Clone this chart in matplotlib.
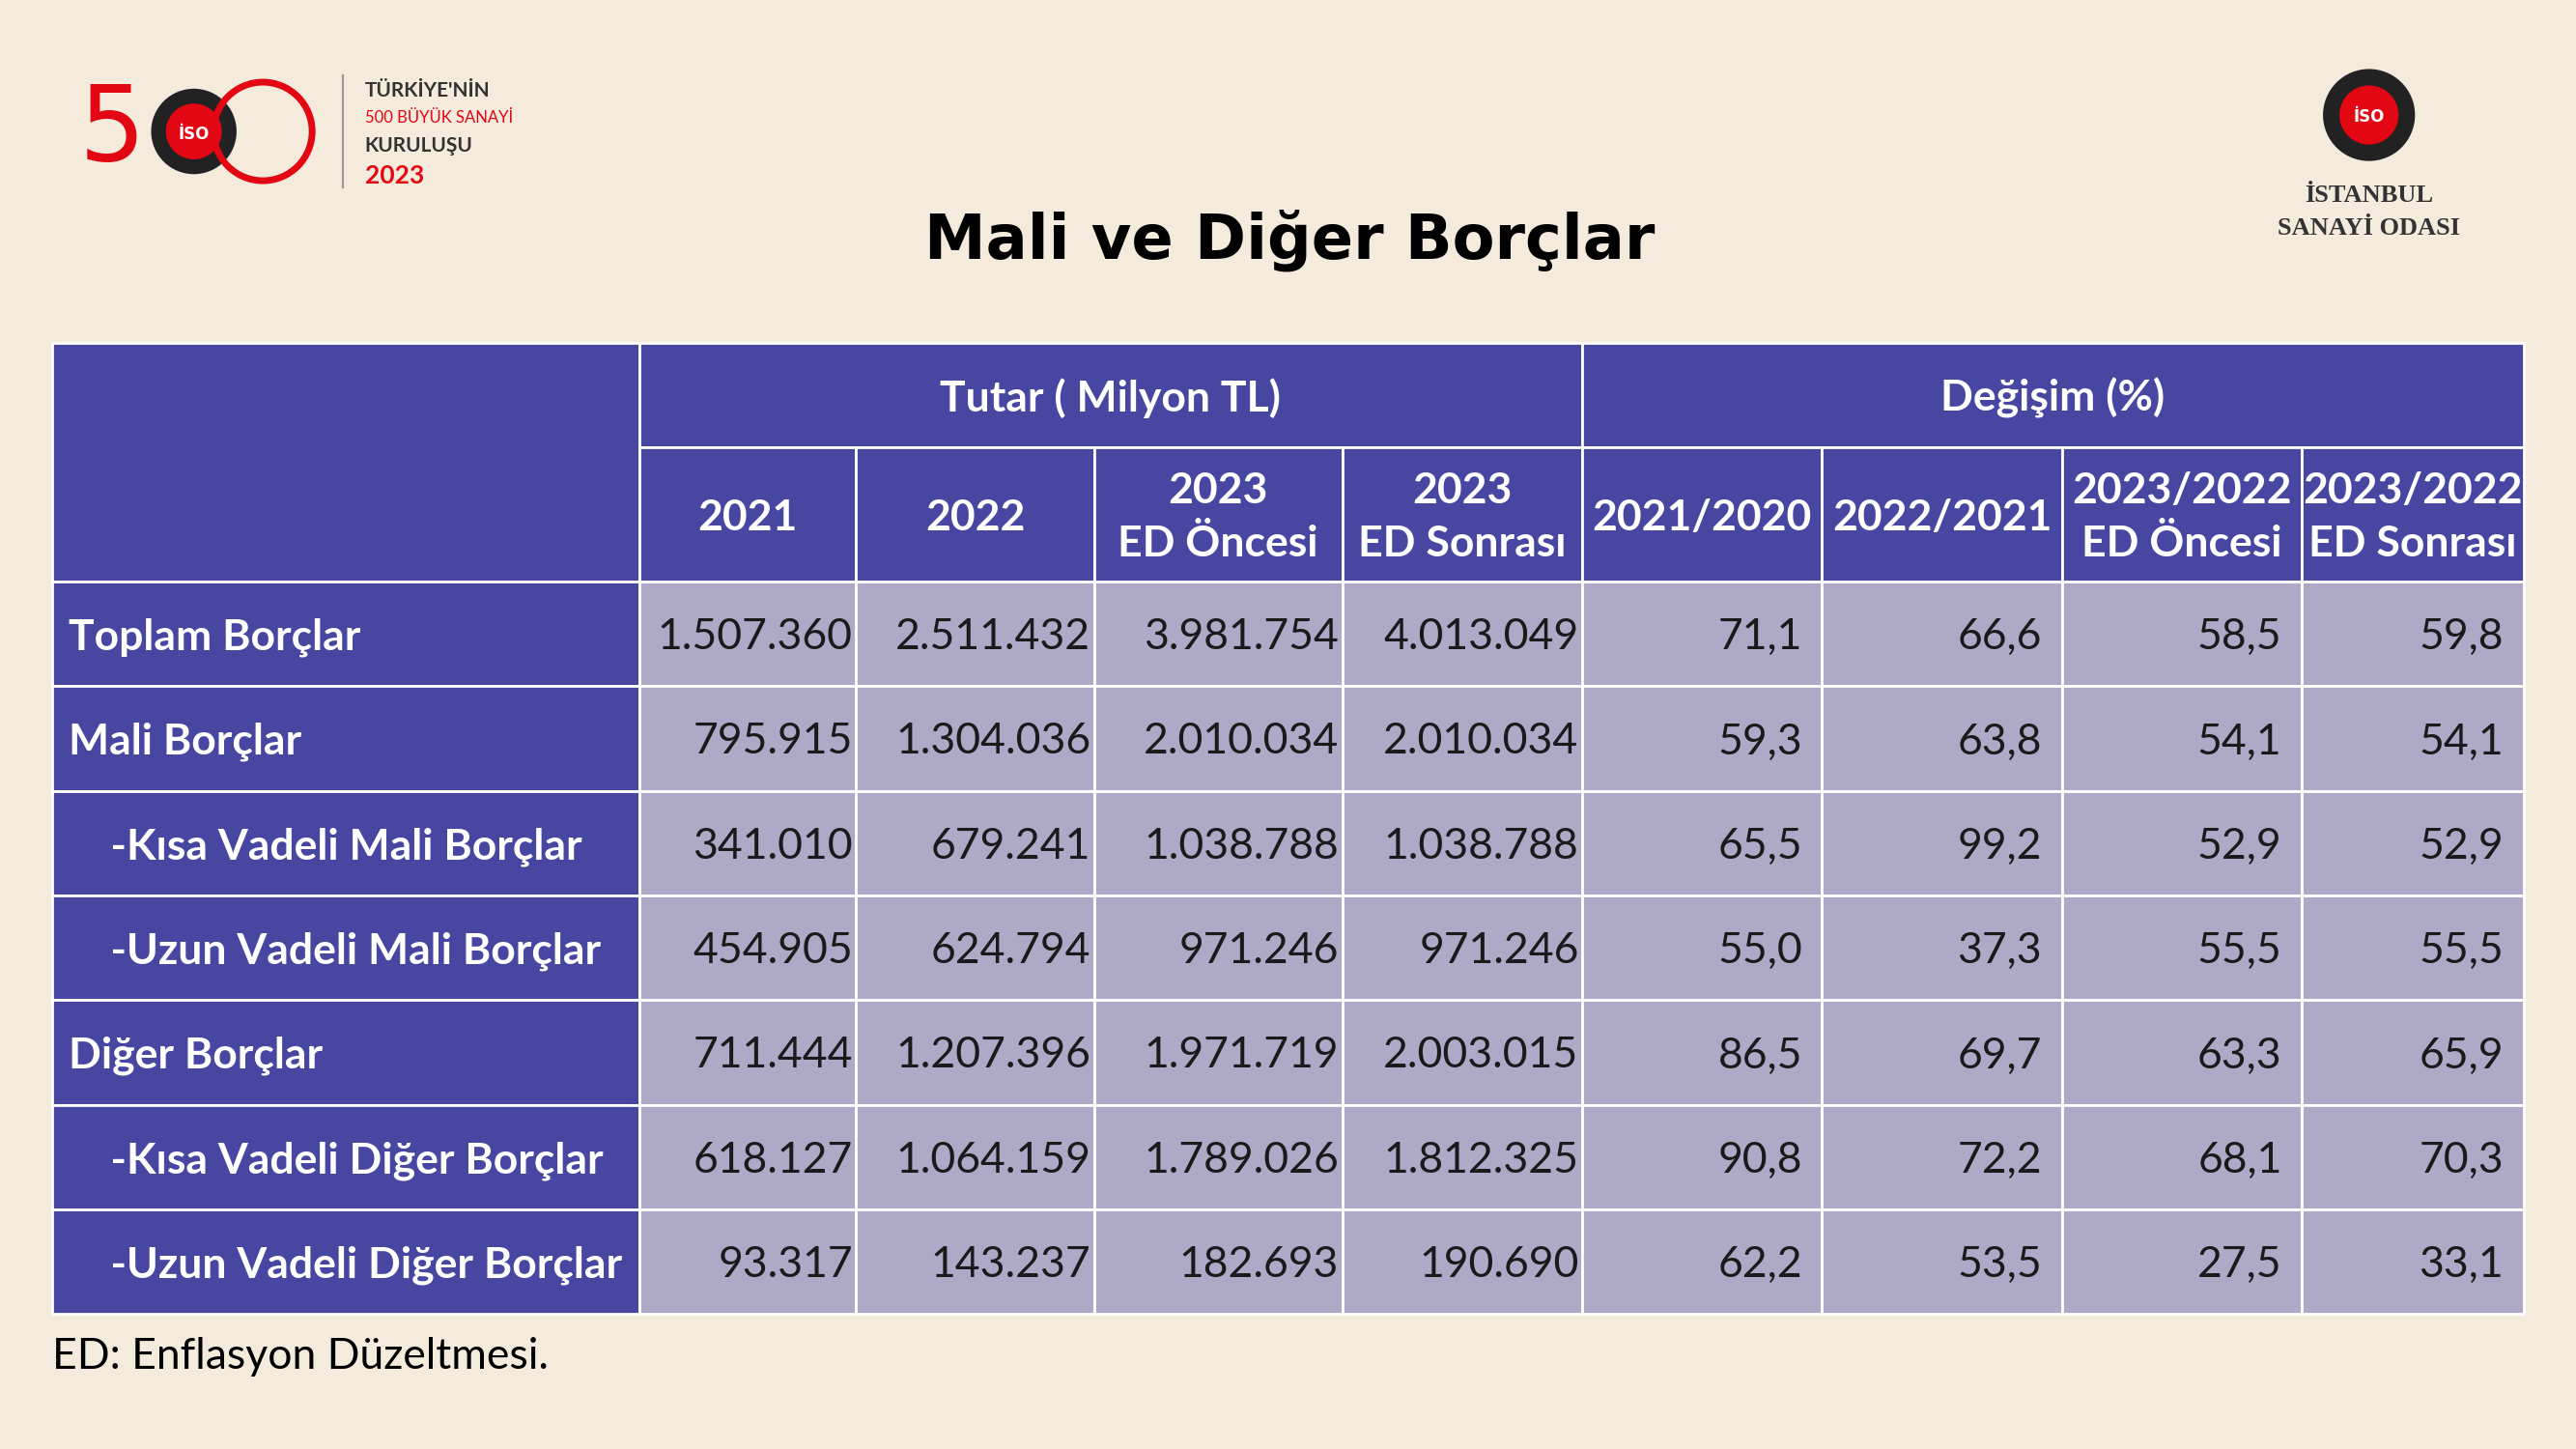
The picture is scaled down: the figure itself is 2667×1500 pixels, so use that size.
import matplotlib
matplotlib.use("Agg")
import matplotlib.pyplot as plt
from matplotlib.patches import Rectangle, Circle

row_labels = ["Toplam Borçlar", "Mali Borçlar", "    -Kısa Vadeli Mali Borçlar", "    -Uzun Vadeli Mali Borçlar",
              "Diğer Borçlar", "    -Kısa Vadeli Diğer Borçlar", "    -Uzun Vadeli Diğer Borçlar"]
col_labels = ["2021", "2022", "2023\nED Öncesi", "2023\nED Sonrası",
              "2021/2020", "2022/2021", "2023/2022\nED Öncesi", "2023/2022\nED Sonrası"]
tutar = [["1.507.360", "2.511.432", "3.981.754", "4.013.049"],
         ["795.915", "1.304.036", "2.010.034", "2.010.034"],
         ["341.010", "679.241", "1.038.788", "1.038.788"],
         ["454.905", "624.794", "971.246", "971.246"],
         ["711.444", "1.207.396", "1.971.719", "2.003.015"],
         ["618.127", "1.064.159", "1.789.026", "1.812.325"],
         ["93.317", "143.237", "182.693", "190.690"]]
degisim = [["71,1", "66,6", "58,5", "59,8"],
           ["59,3", "63,8", "54,1", "54,1"],
           ["65,5", "99,2", "52,9", "52,9"],
           ["55,0", "37,3", "55,5", "55,5"],
           ["86,5", "69,7", "63,3", "65,9"],
           ["90,8", "72,2", "68,1", "70,3"],
           ["62,2", "53,5", "27,5", "33,1"]]

W, H = 1568, 882
BG = "#f5ebdc"; DARK = "#4747a1"; LIGHT = "#ada9c7"
FONT = "Lato"
FS = 32
fig = plt.figure(figsize=(26.67, 15), dpi=100, facecolor=BG)
ax = fig.add_axes([0, 0, 1, 1])
ax.set_xlim(0, W); ax.set_ylim(H, 0); ax.axis("off")

xs = [32, 389, 521, 666, 817, 963, 1109, 1255, 1401, 1536]
ys = [209, 272, 354] + [354 + 63.7 * (i + 1) for i in range(7)]

def cell(x0, x1, y0, y1, c):
    ax.add_patch(Rectangle((x0, y0), x1 - x0, y1 - y0, fc=c, ec="white", lw=2))

cell(xs[0], xs[1], ys[0], ys[2], DARK)
cell(xs[1], xs[5], ys[0], ys[1], DARK)
cell(xs[5], xs[9], ys[0], ys[1], DARK)
ax.text((xs[1] + xs[5]) / 2, (ys[0] + ys[1]) / 2 + 2, "Tutar ( Milyon TL)", color="white", fontsize=FS,
        fontweight="bold", ha="center", va="center", family=FONT)
ax.text((xs[5] + xs[9]) / 2, (ys[0] + ys[1]) / 2 + 2, "Değişim (%)", color="white", fontsize=FS,
        fontweight="bold", ha="center", va="center", family=FONT)
for j, lab in enumerate(col_labels):
    cell(xs[j + 1], xs[j + 2], ys[1], ys[2], DARK)
    ax.text((xs[j + 1] + xs[j + 2]) / 2, (ys[1] + ys[2]) / 2 + 2, lab, color="white", fontsize=FS,
            fontweight="bold", ha="center", va="center", family=FONT, linespacing=1.45)

for i, lab in enumerate(row_labels):
    y0, y1 = ys[2 + i], ys[3 + i]
    yc = (y0 + y1) / 2 + 2
    cell(xs[0], xs[1], y0, y1, DARK)
    ax.text(xs[0] + 10, yc, lab, color="white", fontsize=FS, fontweight="bold",
            ha="left", va="center", family=FONT)
    vals = tutar[i] + degisim[i]
    for j, v in enumerate(vals):
        cell(xs[j + 1], xs[j + 2], y0, y1, LIGHT)
        ax.text(xs[j + 2] - (2 if j < 4 else 12), yc, v, color="#1a1a1a", fontsize=FS,
                ha="right", va="center", family=FONT)

ax.text(785, 146, "Mali ve Diğer Borçlar", fontsize=46, fontweight="heavy", ha="center",
        va="center", family="DejaVu Sans", color="black")
ax.text(32, 826, "ED: Enflasyon Düzeltmesi.", fontsize=FS, ha="left", va="center", family=FONT)

# left logo (approximation)
ax.text(48, 80, "5", fontsize=78, color="#e30613", ha="left", va="center", family="DejaVu Sans")
ax.add_patch(Circle((118, 80), 26, fc="#222", ec="none"))
ax.add_patch(Circle((118, 80), 17, fc="#e30613", ec="none"))
ax.text(118, 82, "İSO", fontsize=12, color="white", ha="center", va="center", fontweight="bold")
ax.add_patch(Circle((160, 80), 30, fc="none", ec="#e30613", lw=5))
ax.plot([209, 209], [46, 114], color="#999", lw=1.5)
ax.text(222, 55, "TÜRKİYE'NİN", fontsize=15, ha="left", va="center", family=FONT, fontweight="bold", color="#333")
ax.text(222, 72, "500 BÜYÜK SANAYİ", fontsize=12, ha="left", va="center", family=FONT, color="#e30613")
ax.text(222, 89, "KURULUŞU", fontsize=15, ha="left", va="center", family=FONT, fontweight="bold", color="#333")
ax.text(222, 107, "2023", fontsize=19, ha="left", va="center", family=FONT, fontweight="bold", color="#e30613")

# right logo
ax.add_patch(Circle((1442, 70), 28, fc="#222", ec="none"))
ax.add_patch(Circle((1442, 70), 18, fc="#e30613", ec="none"))
ax.text(1442, 71, "İSO", fontsize=12, color="white", ha="center", va="center", fontweight="bold")
ax.text(1442, 119, "İSTANBUL", fontsize=19, ha="center", va="center", family="Liberation Serif", fontweight="bold", color="#333")
ax.text(1442, 139, "SANAYİ ODASI", fontsize=19, ha="center", va="center", family="Liberation Serif", fontweight="bold", color="#333")

fig.savefig("out.png", dpi=100, facecolor=BG)
